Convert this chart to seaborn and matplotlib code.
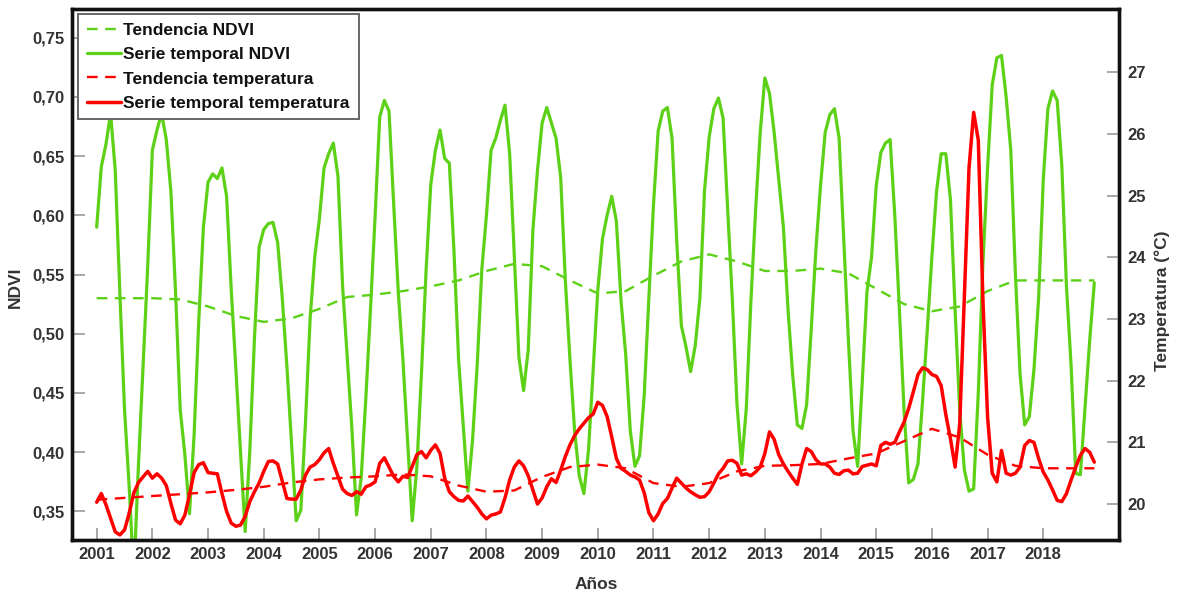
import matplotlib
matplotlib.use("Agg")
import matplotlib.pyplot as plt
from matplotlib.ticker import FuncFormatter, FixedLocator
import pandas as pd
import seaborn as sns

# ---------------------------------------------------------------- data
years = list(range(2001, 2019))

# monthly NDVI, one row per year (Jan..Dec)
ndvi_monthly = [
    [0.590, 0.641, 0.660, 0.686, 0.638, 0.534, 0.436, 0.371, 0.295, 0.389, 0.473, 0.557],
    [0.655, 0.672, 0.686, 0.664, 0.620, 0.535, 0.436, 0.398, 0.348, 0.415, 0.511, 0.590],
    [0.628, 0.635, 0.631, 0.640, 0.616, 0.537, 0.470, 0.400, 0.333, 0.401, 0.496, 0.573],
    [0.588, 0.593, 0.594, 0.577, 0.530, 0.472, 0.407, 0.342, 0.351, 0.425, 0.513, 0.565],
    [0.597, 0.640, 0.652, 0.661, 0.633, 0.540, 0.480, 0.420, 0.347, 0.378, 0.445, 0.520],
    [0.599, 0.683, 0.697, 0.688, 0.610, 0.535, 0.478, 0.410, 0.342, 0.387, 0.467, 0.554],
    [0.626, 0.655, 0.672, 0.648, 0.644, 0.570, 0.478, 0.423, 0.367, 0.410, 0.473, 0.554],
    [0.600, 0.655, 0.665, 0.680, 0.693, 0.652, 0.567, 0.480, 0.452, 0.486, 0.587, 0.638],
    [0.678, 0.691, 0.678, 0.665, 0.632, 0.545, 0.478, 0.418, 0.380, 0.365, 0.402, 0.470],
    [0.537, 0.580, 0.600, 0.616, 0.595, 0.528, 0.483, 0.418, 0.388, 0.397, 0.448, 0.530],
    [0.609, 0.671, 0.688, 0.691, 0.665, 0.579, 0.507, 0.489, 0.468, 0.490, 0.530, 0.621],
    [0.666, 0.690, 0.699, 0.682, 0.604, 0.528, 0.440, 0.390, 0.437, 0.528, 0.604, 0.670],
    [0.716, 0.703, 0.670, 0.630, 0.590, 0.520, 0.465, 0.423, 0.420, 0.440, 0.504, 0.571],
    [0.625, 0.670, 0.685, 0.690, 0.665, 0.580, 0.495, 0.418, 0.388, 0.460, 0.535, 0.565],
    [0.625, 0.653, 0.661, 0.664, 0.600, 0.520, 0.435, 0.374, 0.377, 0.390, 0.444, 0.503],
    [0.565, 0.620, 0.652, 0.652, 0.613, 0.520, 0.435, 0.385, 0.367, 0.369, 0.450, 0.560],
    [0.640, 0.710, 0.733, 0.735, 0.700, 0.655, 0.550, 0.466, 0.423, 0.430, 0.470, 0.530],
    [0.630, 0.690, 0.705, 0.697, 0.642, 0.540, 0.473, 0.382, 0.381, 0.437, 0.494, 0.543],
]

# monthly mean temperature (°C), one row per year (Jan..Dec)
temp_monthly = [
    [20.03, 20.17, 19.99, 19.77, 19.55, 19.50, 19.58, 19.85, 20.18, 20.35, 20.44, 20.53],
    [20.42, 20.49, 20.42, 20.30, 20.01, 19.74, 19.68, 19.82, 20.15, 20.51, 20.64, 20.67],
    [20.51, 20.50, 20.49, 20.17, 19.88, 19.69, 19.64, 19.66, 19.80, 20.04, 20.20, 20.34],
    [20.53, 20.69, 20.70, 20.65, 20.37, 20.09, 20.08, 20.08, 20.23, 20.47, 20.60, 20.64],
    [20.72, 20.83, 20.90, 20.66, 20.45, 20.24, 20.17, 20.14, 20.20, 20.16, 20.28, 20.31],
    [20.36, 20.66, 20.75, 20.60, 20.45, 20.36, 20.45, 20.43, 20.61, 20.80, 20.85, 20.75],
    [20.87, 20.96, 20.82, 20.42, 20.20, 20.12, 20.06, 20.05, 20.13, 20.04, 19.95, 19.84],
    [19.76, 19.82, 19.84, 19.87, 20.10, 20.39, 20.60, 20.70, 20.62, 20.46, 20.23, 20.00],
    [20.10, 20.28, 20.41, 20.35, 20.55, 20.77, 20.96, 21.11, 21.22, 21.31, 21.40, 21.46],
    [21.65, 21.60, 21.42, 21.09, 20.74, 20.58, 20.53, 20.47, 20.44, 20.39, 20.18, 19.86],
    [19.73, 19.84, 20.01, 20.09, 20.26, 20.42, 20.34, 20.26, 20.20, 20.15, 20.11, 20.12],
    [20.20, 20.34, 20.49, 20.58, 20.70, 20.71, 20.66, 20.47, 20.49, 20.46, 20.52, 20.60],
    [20.82, 21.17, 21.05, 20.80, 20.65, 20.53, 20.42, 20.32, 20.65, 20.90, 20.85, 20.72],
    [20.65, 20.65, 20.60, 20.50, 20.48, 20.54, 20.55, 20.49, 20.50, 20.61, 20.63, 20.65],
    [20.62, 20.95, 21.00, 20.97, 21.00, 21.17, 21.33, 21.55, 21.82, 22.10, 22.21, 22.18],
    [22.10, 22.07, 21.92, 21.45, 21.06, 20.60, 21.30, 23.40, 25.45, 26.35, 25.90, 23.30],
    [21.41, 20.50, 20.36, 20.87, 20.50, 20.47, 20.50, 20.60, 20.95, 21.03, 21.00, 20.74],
    [20.52, 20.39, 20.23, 20.06, 20.04, 20.17, 20.39, 20.60, 20.79, 20.90, 20.84, 20.68],
]

# smoothed trend components (sampled every half year)
trend_t = [2001.0, 2001.5, 2002.0, 2002.5, 2003.0, 2003.5, 2004.0, 2004.5,
           2005.0, 2005.5, 2006.0, 2006.5, 2007.0, 2007.5, 2008.0, 2008.5,
           2009.0, 2009.5, 2010.0, 2010.5, 2011.0, 2011.5, 2012.0, 2012.5,
           2013.0, 2013.5, 2014.0, 2014.5, 2015.0, 2015.5, 2016.0, 2016.5,
           2017.0, 2017.5, 2018.0, 2018.5, 2018.917]
ndvi_trend = [0.530, 0.530, 0.530, 0.529, 0.523, 0.515, 0.510, 0.513,
              0.521, 0.531, 0.533, 0.536, 0.540, 0.545, 0.553, 0.559,
              0.557, 0.545, 0.534, 0.536, 0.549, 0.561, 0.567, 0.561,
              0.553, 0.553, 0.555, 0.551, 0.538, 0.525, 0.519, 0.523,
              0.536, 0.545, 0.545, 0.545, 0.545]
temp_trend = [20.07, 20.10, 20.13, 20.16, 20.19, 20.23, 20.28, 20.35,
              20.40, 20.43, 20.45, 20.48, 20.45, 20.30, 20.20, 20.22,
              20.44, 20.60, 20.64, 20.58, 20.34, 20.28, 20.34, 20.53,
              20.62, 20.63, 20.65, 20.74, 20.82, 21.02, 21.22, 21.08,
              20.80, 20.62, 20.58, 20.58, 20.58]

ndvi_ticks = [0.35, 0.40, 0.45, 0.50, 0.55, 0.60, 0.65, 0.70, 0.75]
temp_ticks = [20, 21, 22, 23, 24, 25, 26, 27]

# ---------------------------------------------------------------- frames
serie = pd.DataFrame({
    "t": [y + m / 12 for y in years for m in range(12)],
    "ndvi": [v for row in ndvi_monthly for v in row],
    "temp": [v for row in temp_monthly for v in row],
})
tendencia = pd.DataFrame({"t": trend_t, "ndvi": ndvi_trend, "temp": temp_trend})

# ---------------------------------------------------------------- style
sns.set_theme(style="white")
plt.rcParams["font.family"] = ["Liberation Sans", "DejaVu Sans"]
plt.rcParams["font.weight"] = "bold"

GREEN = "#5DD117"
RED = "#FF0000"
TICK_GRAY = "#9A9A9A"
LABEL_GRAY = "#333333"

fig = plt.figure(figsize=(11.77, 5.92), dpi=100)
fig.patch.set_facecolor("white")
ax = fig.add_axes([0.0609, 0.0878, 0.8900, 0.8970])
ax2 = ax.twinx()

dash = (0, (4.5, 3.2))
sns.lineplot(data=tendencia, x="t", y="ndvi", ax=ax, color=GREEN, lw=1.7,
             linestyle=dash, label="Tendencia NDVI", estimator=None, sort=False)
sns.lineplot(data=serie, x="t", y="ndvi", ax=ax, color=GREEN, lw=2.3,
             label="Serie temporal NDVI", estimator=None, sort=False)
sns.lineplot(data=tendencia, x="t", y="temp", ax=ax2, color=RED, lw=1.7,
             linestyle=dash, label="Tendencia temperatura", estimator=None, sort=False)
sns.lineplot(data=serie, x="t", y="temp", ax=ax2, color=RED, lw=2.5,
             label="Serie temporal temperatura", estimator=None, sort=False)

for a in (ax, ax2):
    lg = a.get_legend()
    if lg is not None:
        lg.remove()

# ---------------------------------------------------------------- axes
ax.set_xlim(2000.551, 2019.364)
ax.set_ylim(0.3258, 0.7742)
ax2.set_ylim(19.417, 28.026)

ax.xaxis.set_major_locator(FixedLocator(years))
ax.yaxis.set_major_locator(FixedLocator(ndvi_ticks))
ax2.yaxis.set_major_locator(FixedLocator(temp_ticks))
ax.xaxis.set_major_formatter(FuncFormatter(lambda v, p: f"{int(round(v))}"))
ax.yaxis.set_major_formatter(FuncFormatter(lambda v, p: f"{v:.2f}".replace(".", ",")))
ax2.yaxis.set_major_formatter(FuncFormatter(lambda v, p: f"{int(round(v))}"))

ax.tick_params(axis="both", direction="in", length=9, width=1.2, color=TICK_GRAY,
               labelsize=12, labelcolor=LABEL_GRAY, pad=5)
ax.tick_params(axis="y", left=True, right=False)
ax.tick_params(axis="x", bottom=True, top=False)
ax2.tick_params(axis="y", direction="in", length=9, width=1.2, color=TICK_GRAY,
                labelsize=12, labelcolor=LABEL_GRAY, pad=6, right=True, left=False)
for lab in ax.get_xticklabels() + ax.get_yticklabels() + ax2.get_yticklabels():
    lab.set_fontweight("bold")

for a in (ax, ax2):
    for s in a.spines.values():
        s.set_color("#111111")
        s.set_linewidth(2.4)
ax.grid(False)
ax2.grid(False)

ax.set_xlabel("Años", fontsize=12.5, fontweight="bold", color=LABEL_GRAY)
ax.xaxis.set_label_coords(0.5005, -0.083)
ax.xaxis.label.set_verticalalignment("center")

ax.set_ylabel("NDVI", fontsize=12.5, fontweight="bold", color=LABEL_GRAY)
ax.yaxis.set_label_coords(-0.054, 0.476)
ax.yaxis.label.set_verticalalignment("center")

ax2.set_ylabel("Temperatura (°C)", fontsize=12.5, fontweight="bold", color=LABEL_GRAY)
ax2.yaxis.set_label_coords(1.041, 0.45)
ax2.yaxis.label.set_verticalalignment("center")

# ---------------------------------------------------------------- legend
handles = ax.get_lines() + ax2.get_lines()
labels = [h.get_label() for h in handles]
leg = ax2.legend(handles, labels, loc="upper left", bbox_to_anchor=(0.006, 0.990),
                 borderaxespad=0, frameon=True, fancybox=False,
                 handlelength=2.0, handletextpad=0.12, labelspacing=0.52,
                 borderpad=0.5, prop={"weight": "bold", "size": 12.5})
leg.get_frame().set_edgecolor("#666666")
leg.get_frame().set_linewidth(1.4)
leg.get_frame().set_facecolor("white")
leg.get_frame().set_alpha(1.0)
for t in leg.get_texts():
    t.set_color("#111111")

fig.savefig("out.png", dpi=100, facecolor="white")
